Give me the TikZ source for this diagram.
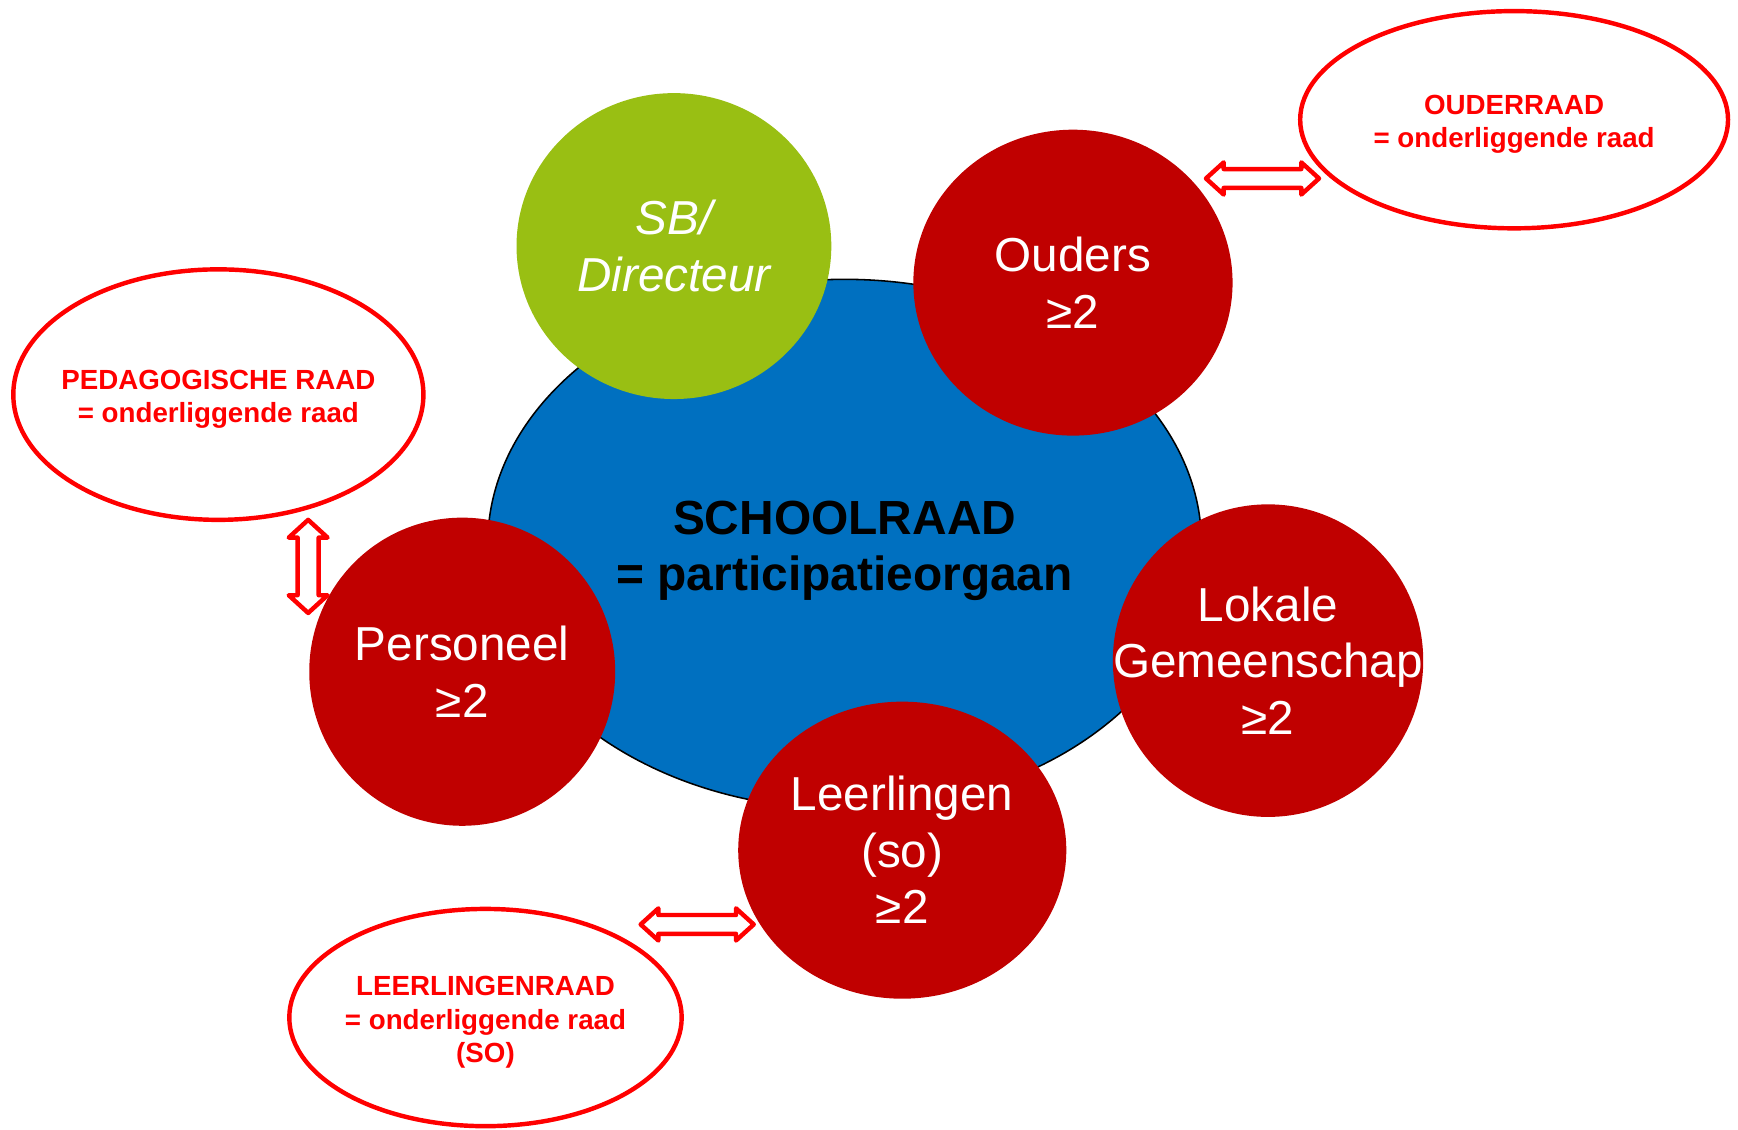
\documentclass[tikz,border=0pt]{standalone}
\usepackage{fontspec}
\setmainfont{Liberation Sans}
\usetikzlibrary{shapes.geometric}
\definecolor{schoolblue}{HTML}{0070C0}
\definecolor{darkred}{HTML}{C00000}
\definecolor{brightred}{HTML}{FF0000}
\definecolor{leafgreen}{HTML}{99BF13}
\begin{document}
\begin{tikzpicture}[x=0.5pt,y=-0.5pt,
  member/.style={ellipse, fill=darkred, inner sep=0pt},
  membertext/.style={text=white, align=center, inner sep=0pt, font=\fontsize{21.5}{25.5}\selectfont},
  council/.style={ellipse, draw=brightred, line width=2pt, fill=white, inner sep=0pt},
  counciltext/.style={text=brightred, align=center, inner sep=0pt, yshift=-2.2pt,
    font=\bfseries\fontsize{12.5}{15}\selectfont},
  barrow/.style={draw=brightred, fill=white, line width=2pt, line join=round}]
\useasboundingbox (0,0) rectangle (1568,1019);
% central body
\node[ellipse, draw=black, line width=0.7pt, fill=schoolblue, minimum width=322pt, minimum height=239pt, inner sep=0pt] (school) at (762,491) {};
\node[align=center, inner sep=0pt, font=\bfseries\fontsize{21.6}{25.5}\selectfont] (schooltext) at (762,497) {SCHOOLRAAD\\= participatieorgaan};
% members
\node[ellipse, fill=leafgreen, inner sep=0pt, minimum width=142pt, minimum height=138pt] (sb) at (608,222) {};
\node[membertext, font=\itshape\fontsize{21.5}{25.5}\selectfont] (sbtext) at (sb.center) {SB/\\Directeur};
\node[member, minimum width=144pt, minimum height=138pt] (ouders) at (968,255) {};
\node[membertext] (ouderstext) at (ouders.center) {Ouders\\≥2};
\node[member, minimum width=138pt, minimum height=139pt] (personeel) at (417,606) {};
\node[membertext] (personeeltext) at (personeel.center) {Personeel\\≥2};
\node[member, minimum width=140pt, minimum height=141pt] (lokale) at (1144,596) {};
\node[membertext] (lokaletext) at (lokale.center) {Lokale\\Gemeenschap\\≥2};
\node[member, minimum width=148pt, minimum height=134pt] (leerlingen) at (814,767) {};
\node[membertext] (leerlingentext) at (leerlingen.center) {Leerlingen\\(so)\\≥2};
% underlying councils
\node[council, minimum width=193pt, minimum height=98pt] (ouderraad) at (1366,108) {};
\node[counciltext] (ouderraadtext) at (ouderraad.center) {OUDERRAAD\\= onderliggende raad};
\node[council, minimum width=185pt, minimum height=113pt] (pedraad) at (197,356) {};
\node[counciltext] (pedraadtext) at (pedraad.center) {PEDAGOGISCHE RAAD\\= onderliggende raad};
\node[council, minimum width=177pt, minimum height=98pt] (llraad) at (438,918) {};
\node[counciltext] (llraadtext) at (llraad.center) {LEERLINGENRAAD\\= onderliggende raad\\(SO)};
% block double arrows
\newcommand{\blockdbl}{(-51,0) -- (-35,-14.5) -- (-35,-8.5) -- (35,-8.5) -- (35,-14.5) -- (51,0) -- (35,14.5) -- (35,8.5) -- (-35,8.5) -- (-35,14.5) -- cycle}
\begin{scope}[shift={(1139,161)}]
  \draw[barrow] \blockdbl;
\end{scope}
\begin{scope}[shift={(629,834)}]
  \draw[barrow] \blockdbl;
\end{scope}
\begin{scope}[shift={(278,511)}, rotate=90]
  \draw[barrow] (-42,0) -- (-26,-17.5) -- (-26,-9.5) -- (26,-9.5) -- (26,-17.5) -- (42,0) -- (26,17.5) -- (26,9.5) -- (-26,9.5) -- (-26,17.5) -- cycle;
\end{scope}
\end{tikzpicture}
\end{document}
